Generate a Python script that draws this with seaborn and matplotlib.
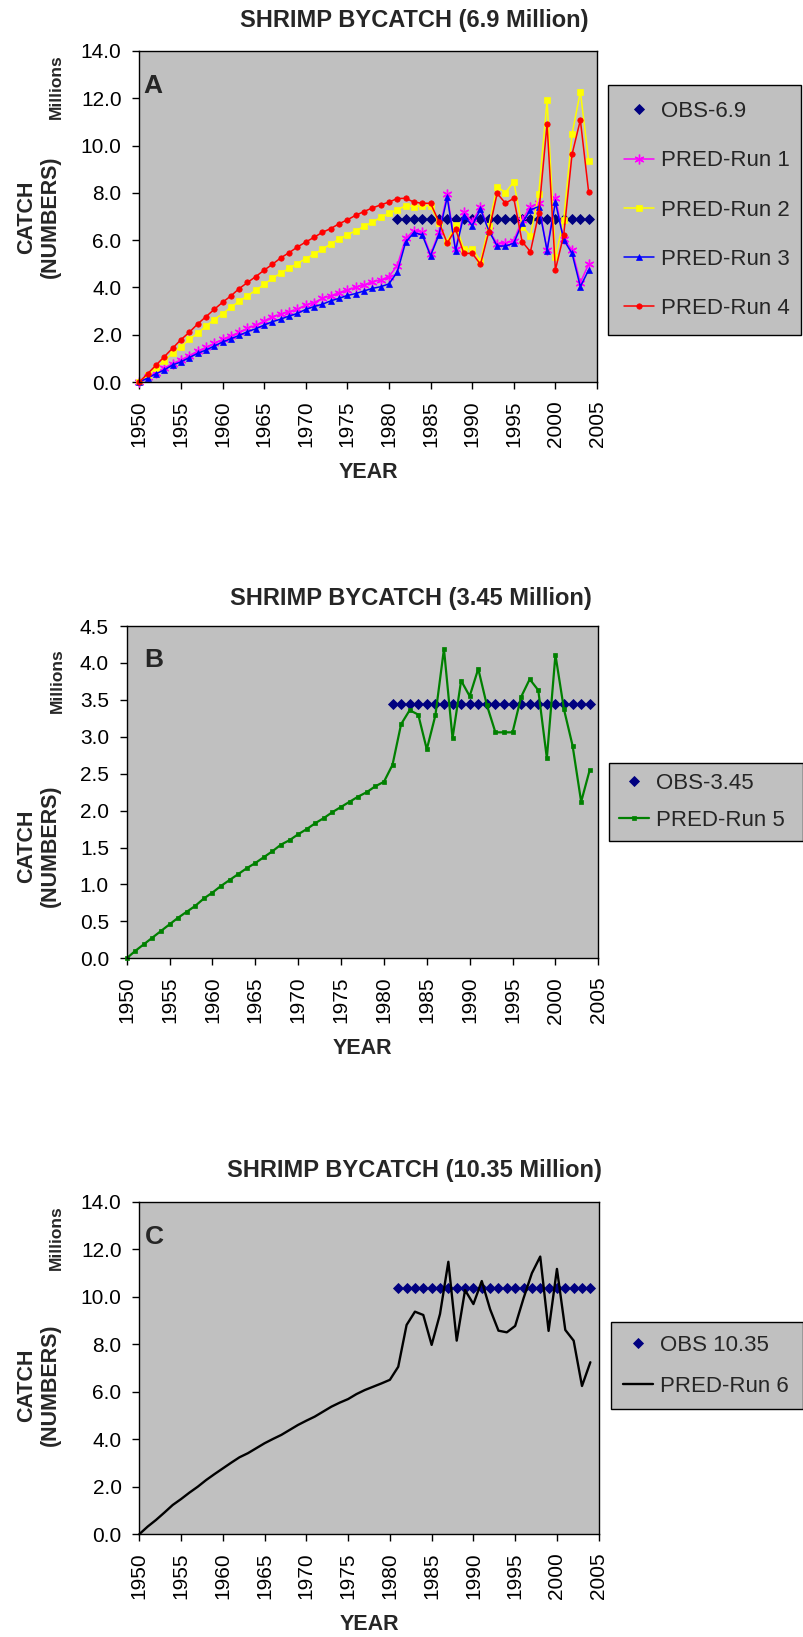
import numpy as np
import matplotlib
matplotlib.use("Agg")
import matplotlib.pyplot as plt
from matplotlib.ticker import FormatStrFormatter
import seaborn as sns

# ---------------------------------------------------------------- data
years = list(range(1950, 2005))
obs_years = list(range(1981, 2005))

# Panel A: observed level 6.9 million, four model runs
obs_a = [6.9] * len(obs_years)
run1 = [0.00, 0.20, 0.40, 0.58, 0.78, 0.93, 1.12, 1.30, 1.46, 1.63,
        1.80, 1.95, 2.10, 2.27, 2.40, 2.58, 2.76, 2.86, 2.98, 3.07,
        3.26, 3.36, 3.54, 3.64, 3.78, 3.89, 4.01, 4.10, 4.24, 4.31,
        4.46, 4.92, 6.07, 6.40, 6.33, 5.40, 6.33, 7.95, 5.61, 7.18,
        6.78, 7.39, 6.43, 5.84, 5.86, 5.98, 6.85, 7.42, 7.56, 5.58,
        7.78, 6.05, 5.58, 4.20, 4.99]
run2 = [0.00, 0.28, 0.59, 0.90, 1.22, 1.49, 1.80, 2.06, 2.36, 2.64,
        2.89, 3.16, 3.41, 3.65, 3.88, 4.13, 4.39, 4.60, 4.81, 5.01,
        5.22, 5.41, 5.61, 5.84, 6.04, 6.23, 6.39, 6.58, 6.76, 6.96,
        7.13, 7.29, 7.45, 7.42, 7.44, 7.46, 6.71, 5.94, 6.64, 5.63,
        5.63, 5.12, 6.61, 8.26, 8.01, 8.47, 6.57, 6.19, 7.95, 11.92,
        5.27, 6.87, 10.48, 12.28, 9.35]
run3 = [0.00, 0.17, 0.35, 0.51, 0.72, 0.85, 1.03, 1.21, 1.35, 1.52,
        1.69, 1.83, 1.97, 2.13, 2.25, 2.41, 2.55, 2.66, 2.79, 2.90,
        3.07, 3.19, 3.29, 3.43, 3.54, 3.66, 3.74, 3.85, 3.96, 4.03,
        4.15, 4.65, 5.91, 6.32, 6.22, 5.34, 6.22, 7.81, 5.56, 7.04,
        6.61, 7.30, 6.40, 5.75, 5.75, 5.87, 6.71, 7.28, 7.42, 5.56,
        7.60, 6.01, 5.44, 4.03, 4.74]
run4 = [0.00, 0.35, 0.71, 1.07, 1.43, 1.79, 2.10, 2.45, 2.76, 3.07,
        3.37, 3.64, 3.95, 4.21, 4.46, 4.73, 4.98, 5.25, 5.47, 5.71,
        5.92, 6.12, 6.33, 6.49, 6.69, 6.86, 7.05, 7.21, 7.36, 7.49,
        7.61, 7.76, 7.77, 7.61, 7.56, 7.56, 6.78, 5.87, 6.47, 5.44,
        5.44, 4.98, 6.36, 7.98, 7.56, 7.77, 5.94, 5.51, 7.13, 10.91,
        4.74, 6.22, 9.63, 11.08, 8.02]

# Panel B: observed level 3.45 million, run 5
obs_b = [3.45] * len(obs_years)
run5 = [0.00, 0.10, 0.19, 0.28, 0.37, 0.46, 0.55, 0.63, 0.71, 0.81,
        0.89, 0.98, 1.06, 1.14, 1.22, 1.29, 1.37, 1.45, 1.54, 1.60,
        1.68, 1.75, 1.83, 1.90, 1.98, 2.05, 2.12, 2.19, 2.25, 2.33,
        2.39, 2.62, 3.17, 3.36, 3.30, 2.83, 3.29, 4.19, 2.98, 3.76,
        3.55, 3.92, 3.43, 3.06, 3.06, 3.06, 3.54, 3.78, 3.63, 2.71,
        4.11, 3.37, 2.88, 2.12, 2.55]

# Panel C: observed level 10.35 million, run 6
obs_c = [10.35] * len(obs_years)
run6 = [0.00, 0.32, 0.60, 0.91, 1.23, 1.48, 1.75, 2.00, 2.28, 2.53,
        2.77, 3.01, 3.24, 3.41, 3.62, 3.83, 4.01, 4.18, 4.39, 4.60,
        4.78, 4.95, 5.16, 5.37, 5.54, 5.69, 5.90, 6.07, 6.21, 6.35,
        6.50, 7.05, 8.81, 9.37, 9.23, 7.97, 9.27, 11.47, 8.15, 10.28,
        9.69, 10.66, 9.47, 8.57, 8.50, 8.77, 9.93, 10.99, 11.69, 8.56,
        11.17, 8.60, 8.15, 6.24, 7.24]

year_ticks = list(range(1950, 2006, 5))
titles = ["SHRIMP BYCATCH (6.9 Million)",
          "SHRIMP BYCATCH (3.45 Million)",
          "SHRIMP BYCATCH (10.35 Million)"]

# ---------------------------------------------------------------- style
sns.set_style("white")
plt.rcParams["font.family"] = ["Liberation Sans", "DejaVu Sans"]

W, H = 804, 1637
fig = plt.figure(figsize=(W / 100, H / 100), dpi=100)
fig.patch.set_facecolor("white")

PLOT_BG = "#C0C0C0"
NAVY = "#000080"
LEGEND_FS = 16


def fx(x):
    return x / W


def fy(y):
    return 1 - y / H


def axes_box(left, top, right, bottom):
    return fig.add_axes([fx(left), fy(bottom), (right - left) / W, (bottom - top) / H])


def style_axes(ax, ymax, ystep):
    ax.set_facecolor(PLOT_BG)
    ax.set_xlim(1950, 2005)
    ax.set_ylim(0, ymax)
    ax.set_xticks(year_ticks)
    ax.set_yticks(np.arange(0, ymax + ystep / 2, ystep))
    ax.yaxis.set_major_formatter(FormatStrFormatter("%.1f"))
    ax.tick_params(axis="both", which="major", direction="out", length=4.8,
                   width=1.0, color="black", labelsize=15, labelcolor="black",
                   bottom=True, left=True, top=False, right=False)
    ax.tick_params(axis="x", labelrotation=90, pad=8.5)
    ax.tick_params(axis="y", pad=8)
    for s in ax.spines.values():
        s.set_visible(True)
        s.set_color("black")
        s.set_linewidth(1.0)
    ax.set_xlabel("")
    ax.set_ylabel("")


def obs_series(ax, values, label):
    sns.lineplot(x=obs_years, y=values, ax=ax, errorbar=None, linestyle="none",
                 marker="D", markersize=5.0, color=NAVY, markeredgecolor=NAVY,
                 markeredgewidth=0.6, label=label, clip_on=False)


def run_series(ax, values, label, color, marker, msize, lw, mew=0.5):
    kw = dict(x=years, y=values, ax=ax, errorbar=None, color=color,
              linewidth=lw, label=label, clip_on=False)
    if marker is not None:
        kw.update(marker=marker, markersize=msize, markeredgecolor=color,
                  markeredgewidth=mew)
    sns.lineplot(**kw)


def add_legend(ax, left, top, right, labelspacing, borderpad):
    handles, labels = ax.get_legend_handles_labels()
    leg = ax.legend(handles, labels, loc="upper left", mode="expand",
                    bbox_to_anchor=(fx(left), fy(top), (right - left) / W, 0),
                    bbox_transform=fig.transFigure, borderaxespad=0,
                    frameon=True, fancybox=False, shadow=False,
                    edgecolor="black", facecolor=PLOT_BG, framealpha=1,
                    fontsize=LEGEND_FS, handlelength=1.35, handletextpad=0.32,
                    labelspacing=labelspacing, borderpad=borderpad, numpoints=1)
    leg.get_frame().set_linewidth(1.0)
    return leg


def annotate(title, title_xy, letter, letter_xy, millions_xy, catch_xy, year_xy):
    fig.text(fx(title_xy[0]), fy(title_xy[1]), title, ha="left", va="center",
             fontsize=17, fontweight="bold")
    fig.text(fx(letter_xy[0]), fy(letter_xy[1]), letter, ha="left", va="top",
             fontsize=19, fontweight="bold")
    fig.text(fx(millions_xy[0]), fy(millions_xy[1]), "Millions", rotation=90,
             ha="center", va="center", fontsize=12.5, fontweight="bold")
    fig.text(fx(catch_xy[0]), fy(catch_xy[1]), "CATCH\n(NUMBERS)", rotation=90,
             ha="center", va="center", multialignment="center",
             fontsize=15.5, fontweight="bold", linespacing=1.2)
    fig.text(fx(year_xy[0]), fy(year_xy[1]), "YEAR", ha="center", va="center",
             fontsize=15.5, fontweight="bold")


# ---------------------------------------------------------------- panel A
axA = axes_box(139.3, 51, 597, 382)
obs_series(axA, obs_a, "OBS-6.9")
run_series(axA, run1, "PRED-Run 1", "#FF00FF", (6, 2, 0), 7.0, 1.1, mew=1.0)
run_series(axA, run2, "PRED-Run 2", "#FFFF00", "s", 3.7, 1.1)
run_series(axA, run3, "PRED-Run 3", "#0000FF", "^", 4.6, 1.1)
run_series(axA, run4, "PRED-Run 4", "#FF0000", "o", 3.9, 1.1)
style_axes(axA, 14, 2)
add_legend(axA, 608, 85, 801, labelspacing=1.27, borderpad=0.73)
annotate(titles[0], (240, 21), "A", (143.5, 74), (56, 87), (38.5, 217), (368, 473))

# ---------------------------------------------------------------- panel B
axB = axes_box(126.7, 626, 598.3, 958.3)
obs_series(axB, obs_b, "OBS-3.45")
run_series(axB, run5, "PRED-Run 5", "#008000", "s", 3.0, 1.6)
style_axes(axB, 4.5, 0.5)
add_legend(axB, 609, 762.7, 803, labelspacing=0.74, borderpad=0.45)
annotate(titles[1], (230, 599), "B", (144, 648), (57, 681), (38.5, 846), (362.5, 1049))

# ---------------------------------------------------------------- panel C
axC = axes_box(139.3, 1201.7, 598.7, 1534.2)
obs_series(axC, obs_c, "OBS 10.35")
run_series(axC, run6, "PRED-Run 6", "#000000", None, 0, 1.7)
style_axes(axC, 14, 2)
add_legend(axC, 611, 1322.3, 803, labelspacing=0.93, borderpad=0.55)
annotate(titles[2], (227, 1170.6), "C", (145, 1225), (56.4, 1238), (38.5, 1385), (369, 1625))

fig.savefig("out.png", dpi=100, facecolor="white")
